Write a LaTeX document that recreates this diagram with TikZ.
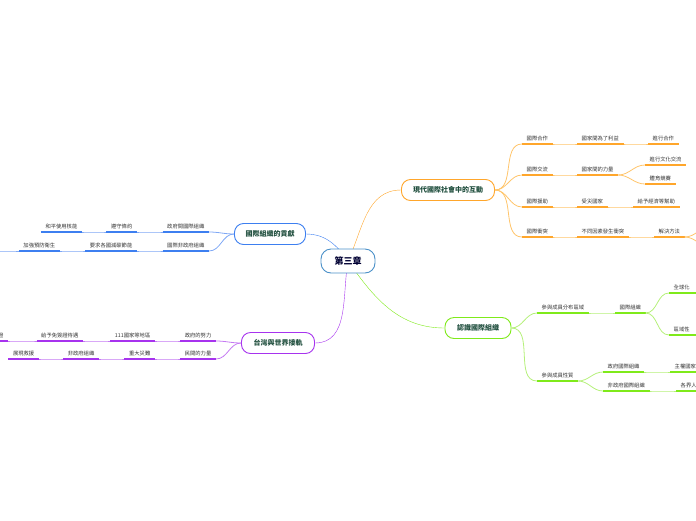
\documentclass[tikz,border=0pt]{standalone}
\usepackage{fontspec}
\newfontfamily\cjk{Noto Sans CJK TC}
\usetikzlibrary{backgrounds}
\definecolor{orgline}{HTML}{FFA62B}
\definecolor{orglink}{HTML}{FFC56B}
\definecolor{grnline}{HTML}{7FEA1A}
\definecolor{grnlink}{HTML}{B5F07A}
\definecolor{bluline}{HTML}{3D7FF0}
\definecolor{blulink}{HTML}{7FA8F5}
\definecolor{purline}{HTML}{A733EE}
\definecolor{purlink}{HTML}{C57AF2}
\definecolor{hubline}{HTML}{4A90C8}
\definecolor{boxtext}{HTML}{1F4E3D}
\definecolor{leaftext}{HTML}{333333}
\tikzset{
  box/.style={draw, fill=white, rounded corners=9pt, line width=0.9pt, minimum height=21pt,
    inner xsep=7pt, text=boxtext, font=\cjk\bfseries\fontsize{7}{8}\selectfont},
  leaf/.style={inner xsep=4.5pt, inner ysep=2.6pt, text=leaftext, font=\cjk\fontsize{5.3}{6}\selectfont},
  uline/.style={line width=1.8pt},
  link/.style={line width=0.8pt, out=0, in=180},
  linkl/.style={line width=0.8pt, out=180, in=0},
}
\begin{document}
\begin{tikzpicture}[x=1pt,y=-1pt]
\useasboundingbox (0,0) rectangle (696,520);
\clip (0,0) rectangle (696,520);

\node[box, draw=hubline, minimum width=54pt, minimum height=24pt, rounded corners=10pt, text=black!80!blue,
  font=\cjk\bfseries\fontsize{9}{10}\selectfont] (hub) at (348,261) {第三章};
\node[box, draw=orgline, minimum width=93pt] (soc) at (448,190) {現代國際社會中的互動};
\node[box, draw=grnline, minimum width=66pt] (org) at (478,328) {認識國際組織};
\node[box, draw=bluline, minimum width=71pt] (con) at (270,234) {國際組織的貢獻};
\node[box, draw=purline, minimum width=73pt] (tw) at (278,343) {台灣與世界接軌};

\begin{scope}[on background layer, line width=1.1pt]
\draw[orgline] (hub.center) to[out=65, in=180] (soc.west);
\draw[grnline] (hub.center) to[out=-55, in=180] (org.west);
\draw[bluline] (hub.center) to[out=125, in=0] (con.east);
\draw[purline] (hub.center) to[out=-100, in=0] (tw.east);
\end{scope}

% 現代國際社會中的互動
\node[leaf, anchor=south west] (s1) at (522,144) {國際合作};
\node[leaf, anchor=south west] (s11) at (577,144) {國家間為了利益};
\node[leaf, anchor=south west] (s111) at (648,144) {進行合作};
\node[leaf, anchor=south west] (s2) at (522,175) {國際交流};
\node[leaf, anchor=south west] (s21) at (577,175) {國家間的力量};
\node[leaf, anchor=south west] (s211) at (645,165) {進行文化交流};
\node[leaf, anchor=south west] (s212) at (645,184) {體育競賽};
\node[leaf, anchor=south west] (s3) at (522,207) {國際援助};
\node[leaf, anchor=south west] (s31) at (577,207) {受災國家};
\node[leaf, anchor=south west] (s311) at (633,207) {給予經濟等幫助};
\node[leaf, anchor=south west] (s4) at (522,237) {國際衝突};
\node[leaf, anchor=south west] (s41) at (577,237) {不同因素發生衝突};
\node[leaf, anchor=south west] (s411) at (654,237) {解決方法};
\coordinate (s4111) at (712,226);
\coordinate (s4112) at (712,248);

\foreach \n in {s1,s11,s111,s2,s21,s211,s212,s3,s31,s311,s4,s41,s411}
  \draw[uline, orgline] (\n.south west) -- (\n.south east);
\foreach \n in {s1,s2,s3,s4}
  \draw[link, orglink] (soc.east) to (\n.south west);
\draw[link, orglink] (s1.south east) to (s11.south west);
\draw[link, orglink] (s11.south east) to (s111.south west);
\draw[link, orglink] (s2.south east) to (s21.south west);
\draw[link, orglink] (s21.south east) to (s211.south west);
\draw[link, orglink] (s21.south east) to (s212.south west);
\draw[link, orglink] (s3.south east) to (s31.south west);
\draw[link, orglink] (s31.south east) to (s311.south west);
\draw[link, orglink] (s4.south east) to (s41.south west);
\draw[link, orglink] (s41.south east) to (s411.south west);
\draw[link, orglink] (s411.south east) to (s4111);
\draw[link, orglink] (s411.south east) to (s4112);

% 認識國際組織
\node[leaf, anchor=south west] (o1) at (537,313) {參與成員分布區域};
\node[leaf, anchor=south west] (o11) at (615,313) {國際組織};
\node[leaf, anchor=south west] (o111) at (669,293) {全球化};
\node[leaf, anchor=south west] (o112) at (669,335) {區域性};
\node[leaf, anchor=south west] (o2) at (537,381) {參與成員性質};
\node[leaf, anchor=south west] (o21) at (603,372) {政府國際組織};
\node[leaf, anchor=south west] (o211) at (670,372) {主權國家};
\node[leaf, anchor=south west] (o22) at (603,391) {非政府國際組織};
\node[leaf, anchor=south west] (o221) at (676,391) {各界人士};

\foreach \n in {o1,o11,o111,o112,o2,o21,o211,o22,o221}
  \draw[uline, grnline] (\n.south west) -- (\n.south east);
\draw[uline, grnline] (o111.south east) -- ++(20,0);
\draw[uline, grnline] (o112.south east) -- ++(20,0);
\foreach \n in {o1,o2}
  \draw[link, grnlink] (org.east) to (\n.south west);
\draw[link, grnlink] (o1.south east) to (o11.south west);
\draw[link, grnlink] (o11.south east) to (o111.south west);
\draw[link, grnlink] (o11.south east) to (o112.south west);
\draw[link, grnlink] (o2.south east) to (o21.south west);
\draw[link, grnlink] (o2.south east) to (o22.south west);
\draw[link, grnlink] (o21.south east) to (o211.south west);
\draw[link, grnlink] (o22.south east) to (o221.south west);

% 國際組織的貢獻
\node[leaf, anchor=south east] (c1) at (209,232) {政府間國際組織};
\node[leaf, anchor=south east] (c11) at (137,232) {遵守條約};
\node[leaf, anchor=south east] (c111) at (82,232) {和平使用核能};
\node[leaf, anchor=south east] (c2) at (209,251) {國際非政府組織};
\node[leaf, anchor=south east] (c21) at (137,251) {要求各國減碳節能};
\node[leaf, anchor=south east] (c211) at (60,251) {加強預防衛生};
\coordinate (c2111) at (-20,251);

\foreach \n in {c1,c11,c111,c2,c21,c211}
  \draw[uline, bluline] (\n.south west) -- (\n.south east);
\foreach \n in {c1,c2}
  \draw[linkl, blulink] (con.west) to (\n.south east);
\draw[linkl, blulink] (c1.south west) to (c11.south east);
\draw[linkl, blulink] (c11.south west) to (c111.south east);
\draw[linkl, blulink] (c2.south west) to (c21.south east);
\draw[linkl, blulink] (c21.south west) to (c211.south east);
\draw[linkl, blulink] (c211.south west) to (c2111);

% 台灣與世界接軌
\node[leaf, anchor=south east] (t1) at (216,341) {政府的努力};
\node[leaf, anchor=south east] (t11) at (155,341) {111國家等地區};
\node[leaf, anchor=south east] (t111) at (83,341) {給予免簽證待遇};
\node[leaf, anchor=south east] (t1111) at (8,341) {落地簽證};
\node[leaf, anchor=south east] (t2) at (216,359) {民間的力量};
\node[leaf, anchor=south east] (t21) at (155,359) {重大災難};
\node[leaf, anchor=south east] (t211) at (99,359) {非政府組織};
\node[leaf, anchor=south east] (t2111) at (39,359) {展現救援};

\foreach \n in {t1,t11,t111,t1111,t2,t21,t211,t2111}
  \draw[uline, purline] (\n.south west) -- (\n.south east);
\foreach \n in {t1,t2}
  \draw[linkl, purlink] (tw.west) to (\n.south east);
\draw[linkl, purlink] (t1.south west) to (t11.south east);
\draw[linkl, purlink] (t11.south west) to (t111.south east);
\draw[linkl, purlink] (t111.south west) to (t1111.south east);
\draw[linkl, purlink] (t2.south west) to (t21.south east);
\draw[linkl, purlink] (t21.south west) to (t211.south east);
\draw[linkl, purlink] (t211.south west) to (t2111.south east);
\end{tikzpicture}
\end{document}
